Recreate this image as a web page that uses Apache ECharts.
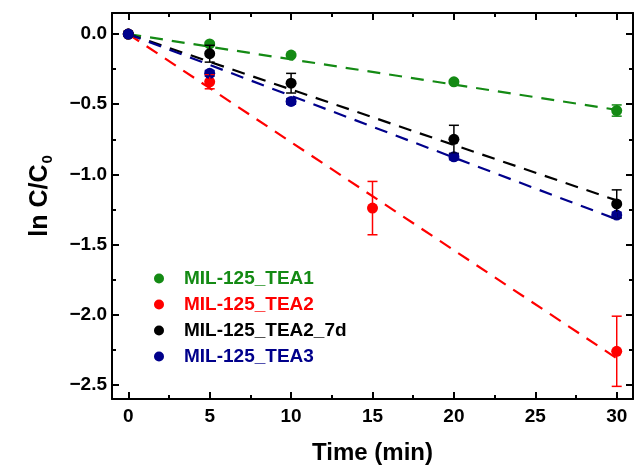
<!DOCTYPE html>
<html>
<head>
<meta charset="utf-8">
<script src="https://cdn.jsdelivr.net/npm/echarts@6/dist/echarts.min.js"></script>
<style>
  html, body { margin: 0; padding: 0; background: #fff; }
  #chart { width: 635px; height: 470px; }
</style>
</head>
<body>
<div id="chart"></div>
<script>
// Sampling times (min)
const timesA = [0, 5, 10, 20, 30];
const timesB = [0, 5, 15, 30];

// ln C/C0 values and error bar half-widths
const tea1 = [0, -0.07, -0.15, -0.34, -0.545];
const tea1Err = [0, 0.01, 0.01, 0.01, 0.04];
const tea2 = [0, -0.34, -1.24, -2.26];
const tea2Err = [0, 0.05, 0.19, 0.25];
const tea2_7d = [0, -0.14, -0.35, -0.75, -1.21];
const tea2_7dErr = [0, 0.06, 0.07, 0.10, 0.10];
const tea3 = [0, -0.28, -0.48, -0.875, -1.29];
const tea3Err = [0, 0.02, 0.02, 0.02, 0.02];

// Linear fits: value of each fitted line at the start and end time
const fitTimes = [0, 30];
const fitTea1 = [0, -0.54];
const fitTea2 = [0, -2.31];
const fitTea2_7d = [0, -1.185];
const fitTea3 = [0, -1.32];

// Axis ticks
const xMajor = [0, 5, 10, 15, 20, 25, 30];
const xMinor = [2.5, 7.5, 12.5, 17.5, 22.5, 27.5];
const yMajor = [0, -0.5, -1.0, -1.5, -2.0, -2.5];
const yMinor = [-0.25, -0.75, -1.25, -1.75, -2.25];

const names = ['MIL-125_TEA1', 'MIL-125_TEA2', 'MIL-125_TEA2_7d', 'MIL-125_TEA3'];
const colors = ['#148a14', '#ff0000', '#000000', '#00008b'];

const groups = [
  { t: timesA, v: tea1, e: tea1Err, f: fitTea1 },
  { t: timesB, v: tea2, e: tea2Err, f: fitTea2 },
  { t: timesA, v: tea2_7d, e: tea2_7dErr, f: fitTea2_7d },
  { t: timesA, v: tea3, e: tea3Err, f: fitTea3 }
];

const FONT = 'Liberation Sans, Arial, sans-serif';
const X_MIN = -1, X_MAX = 31, Y_MIN = -2.6, Y_MAX = 0.15;

function frameAxis(pos, isX, opts) {
  return Object.assign({
    type: 'value',
    position: pos,
    min: isX ? X_MIN : Y_MIN,
    max: isX ? X_MAX : Y_MAX,
    splitLine: { show: false },
    axisLine: { show: true, onZero: false, lineStyle: { color: '#000', width: 2 } },
    axisTick: { show: true, inside: true, length: 7, lineStyle: { color: '#000', width: 2 },
      customValues: isX ? xMajor : yMajor },
    axisLabel: { show: false }
  }, opts || {});
}

function minorAxis(pos, isX) {
  return {
    type: 'value',
    position: pos,
    min: isX ? X_MIN : Y_MIN,
    max: isX ? X_MAX : Y_MAX,
    splitLine: { show: false },
    axisLine: { show: false, onZero: false },
    axisTick: { show: true, inside: true, length: 4, lineStyle: { color: '#000', width: 2 },
      customValues: isX ? xMinor : yMinor },
    axisLabel: { show: false }
  };
}

const xAxes = [
  frameAxis('bottom', true, {
    name: 'Time (min)',
    nameLocation: 'middle',
    nameGap: 42,
    nameTextStyle: { fontFamily: FONT, fontWeight: 'bold', fontSize: 24, color: '#000' },
    axisLabel: { show: true, customValues: xMajor, margin: 8,
      fontFamily: FONT, fontWeight: 'bold', fontSize: 19, color: '#000' }
  }),
  frameAxis('top', true),
  minorAxis('bottom', true),
  minorAxis('top', true)
];

const yAxes = [
  frameAxis('left', false, {
    name: '{a|ln C/C}{s|0}',
    nameLocation: 'middle',
    nameGap: 57,
    nameTextStyle: { fontFamily: FONT, fontWeight: 'bold', fontSize: 25, color: '#000',
      padding: [0, 0, 0, 20],
      rich: {
        a: { fontFamily: FONT, fontWeight: 'bold', fontSize: 25, color: '#000' },
        s: { fontFamily: FONT, fontWeight: 'bold', fontSize: 15, color: '#000',
          verticalAlign: 'bottom', padding: [14, 0, 0, 1] }
      } },
    axisLabel: { show: true, customValues: yMajor, margin: 5,
      fontFamily: FONT, fontWeight: 'bold', fontSize: 19, color: '#000',
      formatter: v => v.toFixed(1).replace('-', '\u2212') }
  }),
  frameAxis('right', false),
  minorAxis('left', false),
  minorAxis('right', false)
];

const series = [];
groups.forEach((g, i) => {
  // dashed fit line
  series.push({
    type: 'line',
    name: names[i] + ' fit',
    xAxisIndex: 0, yAxisIndex: 0,
    data: fitTimes.map((t, k) => [t, g.f[k]]),
    showSymbol: false,
    lineStyle: { color: colors[i], width: 2.2, type: [13, 9] },
    silent: true,
    z: 2
  });
});
groups.forEach((g, i) => {
  // data points
  series.push({
    type: 'scatter',
    name: names[i],
    xAxisIndex: 0, yAxisIndex: 0,
    data: g.t.map((t, k) => [t, g.v[k]]),
    symbol: 'circle',
    symbolSize: 11,
    itemStyle: { color: colors[i], opacity: 1 },
    z: 3
  });
});
groups.forEach((g, i) => {
  // error bars
  series.push({
    type: 'custom',
    name: names[i] + ' err',
    xAxisIndex: 0, yAxisIndex: 0,
    data: g.t.map((t, k) => [t, g.v[k], g.e[k]]),
    renderItem: function (params, api) {
      const x = api.value(0), y = api.value(1), e = api.value(2);
      if (!e) return null;
      const top = api.coord([x, y + e]);
      const bot = api.coord([x, y - e]);
      const hw = 5;
      const style = { stroke: colors[i], lineWidth: 1.5 };
      return {
        type: 'group',
        children: [
          { type: 'line', shape: { x1: top[0], y1: top[1], x2: bot[0], y2: bot[1] }, style },
          { type: 'line', shape: { x1: top[0] - hw, y1: top[1], x2: top[0] + hw, y2: top[1] }, style },
          { type: 'line', shape: { x1: bot[0] - hw, y1: bot[1], x2: bot[0] + hw, y2: bot[1] }, style }
        ]
      };
    },
    silent: true,
    z: 4
  });
});

const chart = echarts.init(document.getElementById('chart'), null, { renderer: 'canvas' });
chart.setOption({
  animation: false,
  backgroundColor: '#fff',
  grid: { left: 112, right: 2, top: 13, bottom: 69, containLabel: false },
  xAxis: xAxes,
  yAxis: yAxes,
  legend: {
    orient: 'vertical',
    left: 149,
    top: 264,
    itemGap: 7,
    itemWidth: 40,
    itemHeight: 10,
    icon: 'circle',
    data: names.map((n, i) => ({
      name: n,
      icon: 'circle',
      itemStyle: { color: colors[i] },
      textStyle: { color: colors[i] }
    })),
    textStyle: { fontFamily: FONT, fontWeight: 'bold', fontSize: 19 },
    selectedMode: false
  },
  series: series
});
</script>
</body>
</html>
